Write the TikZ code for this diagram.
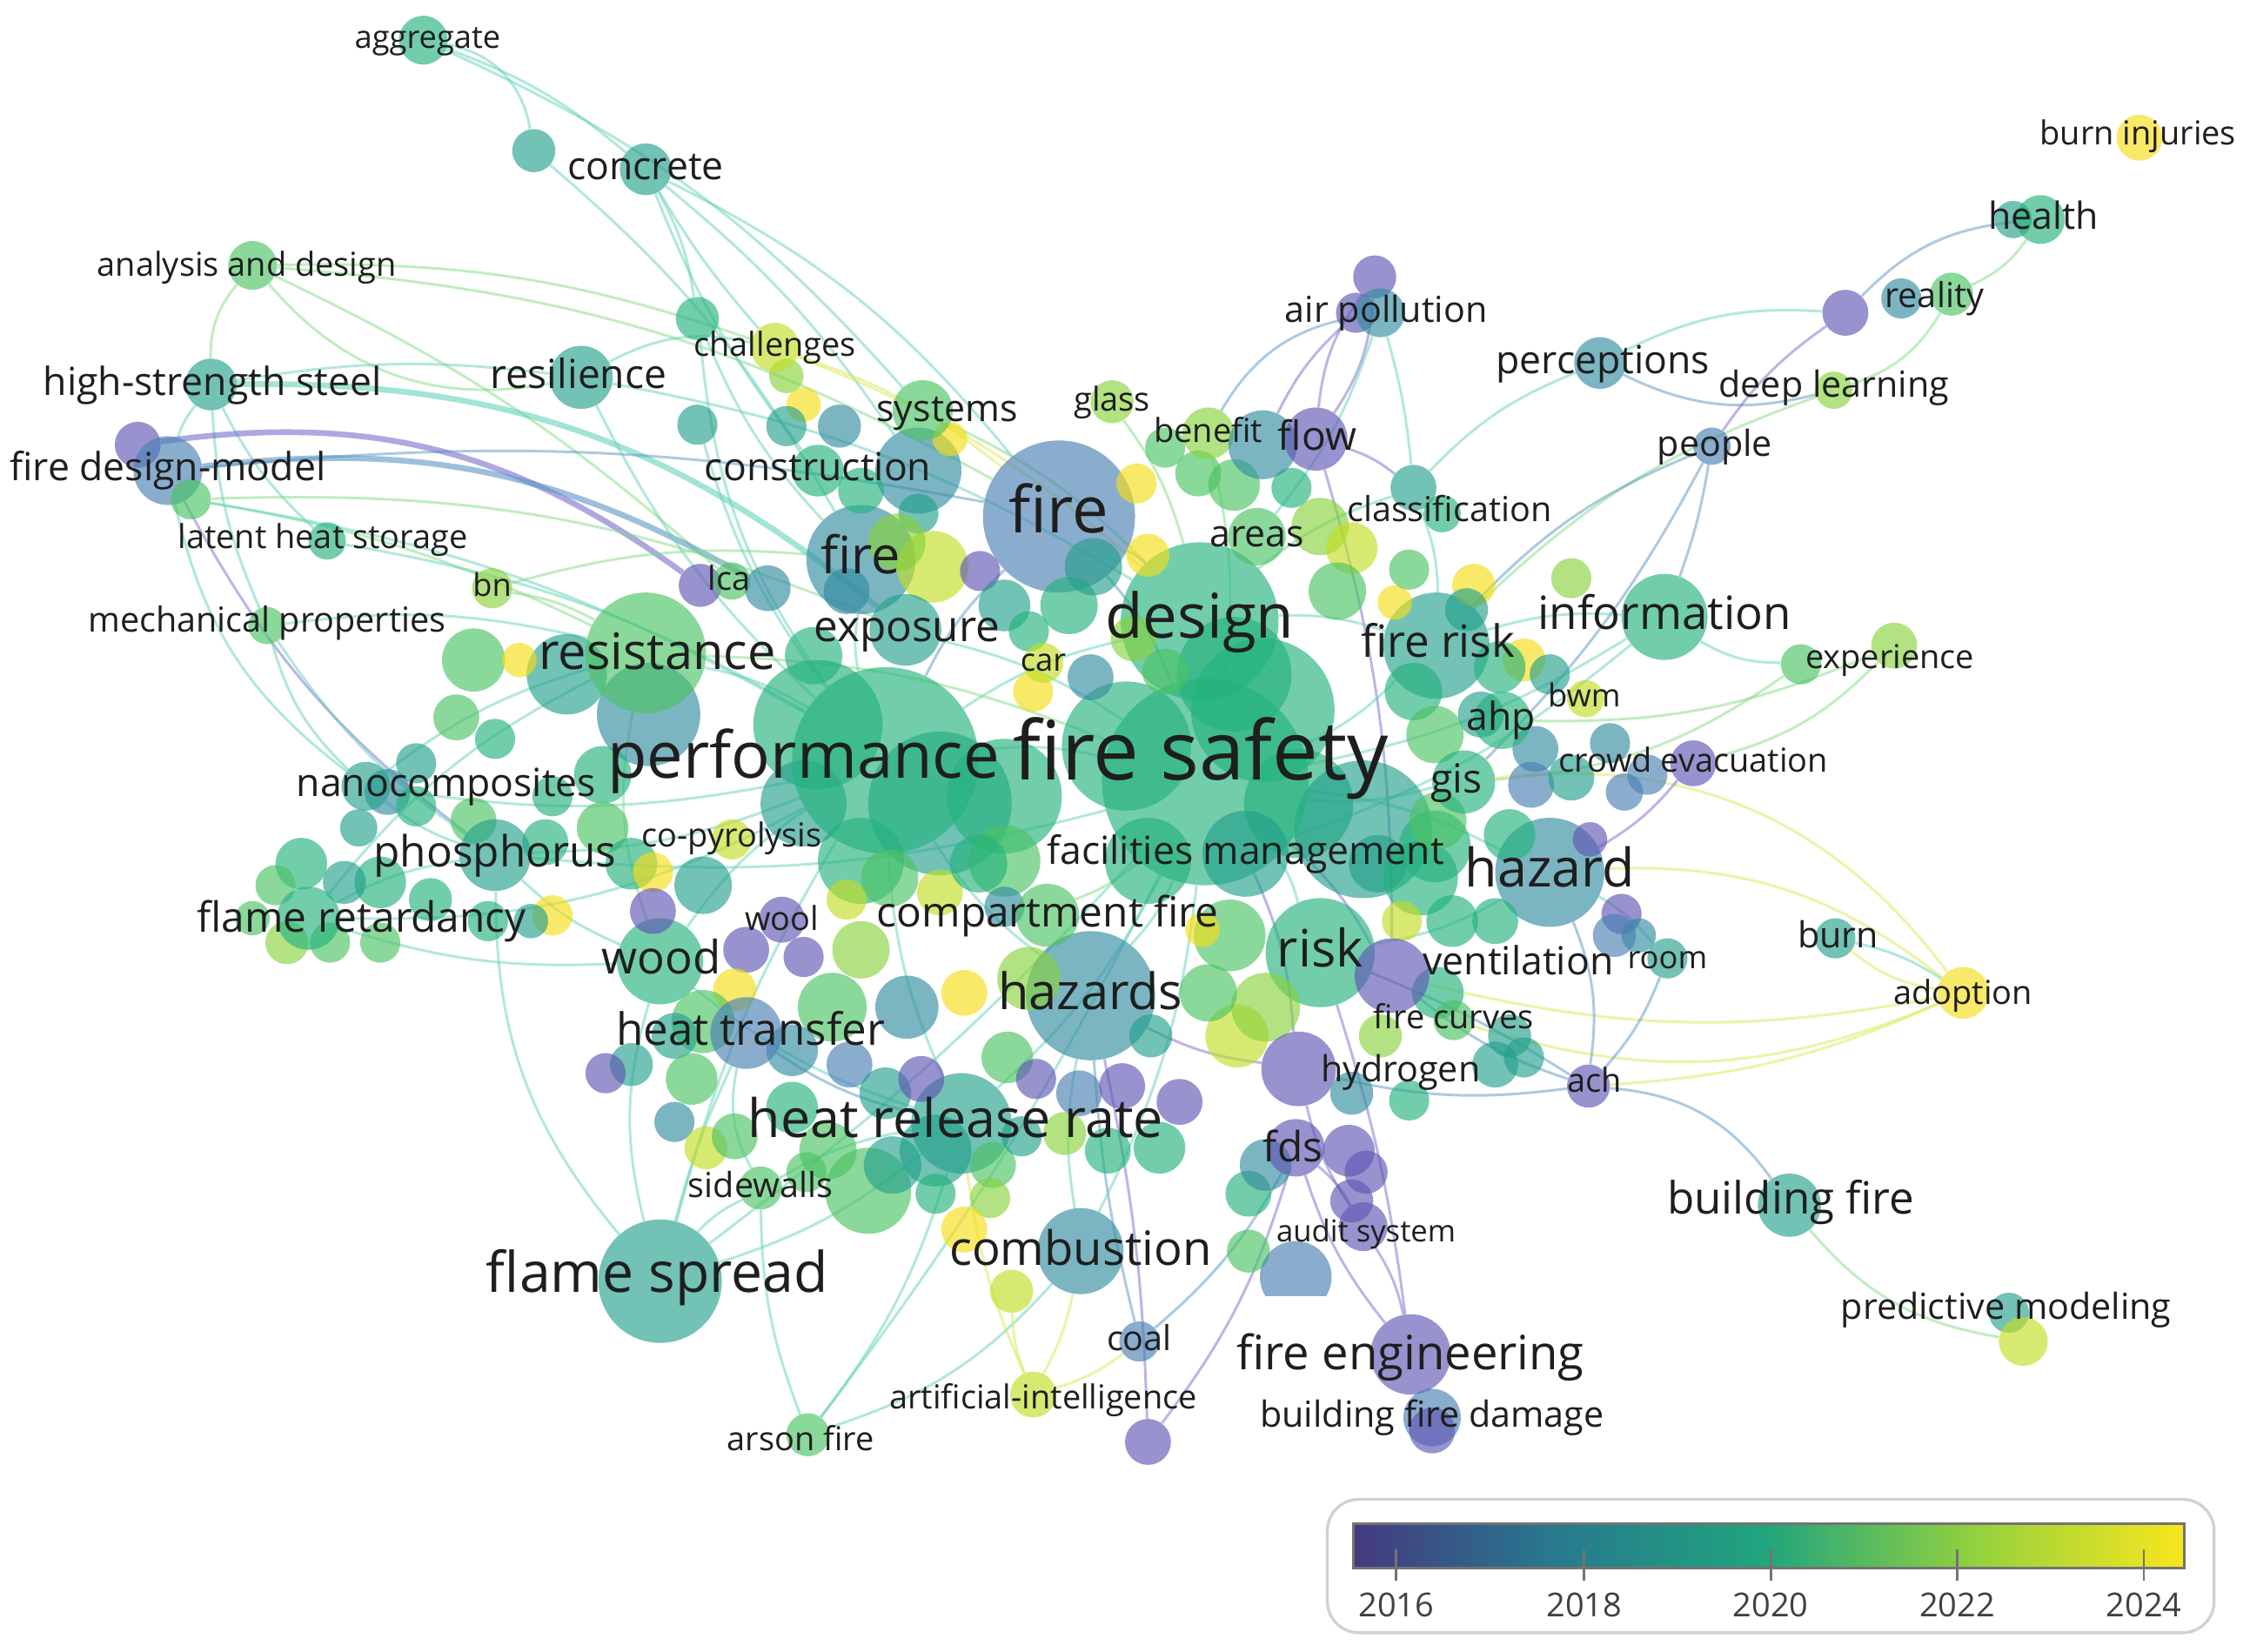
\documentclass[tikz,border=0pt]{standalone}
\usepackage{fontspec}
\setmainfont{Open Sans}
\pgfdeclarelayer{bgl}
\pgfdeclarelayer{edges}
\pgfdeclarelayer{labels}
\pgfsetlayers{bgl,edges,main,labels}
\definecolor{cA}{RGB}{95,85,180}
\definecolor{cB}{RGB}{72,128,178}
\definecolor{cC}{RGB}{50,140,160}
\definecolor{cD}{RGB}{35,160,140}
\definecolor{cE}{RGB}{35,178,125}
\definecolor{cF}{RGB}{75,195,100}
\definecolor{cG}{RGB}{135,210,60}
\definecolor{cH}{RGB}{195,222,35}
\definecolor{cI}{RGB}{245,222,20}
\definecolor{eT}{RGB}{100,210,185}
\definecolor{eG}{RGB}{130,220,130}
\definecolor{eB}{RGB}{90,150,195}
\definecolor{eP}{RGB}{120,110,205}
\definecolor{eY}{RGB}{220,232,80}
\definecolor{lbl}{RGB}{30,30,30}
\definecolor{lg1}{RGB}{68,58,128}
\definecolor{lg2}{RGB}{40,120,142}
\definecolor{lg3}{RGB}{32,165,125}
\definecolor{lg4}{RGB}{150,210,60}
\definecolor{lg5}{RGB}{248,230,30}
\tikzset{
  bub/.style={circle,inner sep=0pt,draw=none,fill opacity=0.64},
  lb/.style={inner sep=0pt,text=lbl},
  ed/.style={draw=#1,line width=1.8pt,draw opacity=0.5},
  ed/.default=eT,
  thick edge/.style={line width=4pt,draw opacity=0.6}
}
\newcommand\bb[5]{\node[bub,fill=#4,minimum size={(2*#3)*1pt}] (#5) at (#1,#2) {};}
\newcommand\lab[5]{\node[lb,font=\fontsize{#3}{#3}\selectfont,anchor=base] (#5) at (#1,{#2+0.27*#3}) {#4};}
\begin{document}
\begin{tikzpicture}[x=1pt,y=-1pt]
\useasboundingbox (0,0) rectangle (1568,1151);
\begin{pgfonlayer}{bgl}
\fill[white] (0,0) rectangle (1568,1151);
\end{pgfonlayer}

% big background bubbles
\foreach \x/\y/\r/\c [count=\i] in {570/505/45/cE, 655/560/50/cD, 700/555/40/cE, 785/520/45/cE, 880/495/50/cE, 860/470/40/cE, 905/560/38/cE, 950/578/48/cD, 452/498/36/cC, 395/470/28/cD, 605/830/30/cF, 800/600/30/cE, 700/600/25/cF, 600/600/30/cE, 560/560/30/cD, 1000/590/25/cE}
  {\node[bub,fill=\c,minimum size={(2*\r)*1pt}] (g\i) at (\x,\y) {};}

% big named bubbles
\bb{617}{530}{65}{cE}{perf}
\bb{840}{545}{72}{cE}{fs}
\bb{836}{433}{55}{cE}{design}
\bb{738}{360}{53}{cB}{firel}
\bb{450}{455}{42}{cF}{resi}
\bb{760}{694}{45}{cC}{hazs}
\bb{600}{390}{38}{cC}{firem}
\bb{1001}{450}{37}{cD}{frisk}
\bb{1080}{608}{38}{cC}{haz}
\bb{920}{664}{38}{cE}{risk}
\bb{460}{893}{43}{cD}{fsp}
\bb{670}{783}{35}{cD}{hrr}
\bb{753}{872}{30}{cC}{comb}
\bb{1160}{430}{30}{cE}{info}
\bb{868}{595}{30}{cD}{fm}
\bb{460}{670}{30}{cE}{wood}
\bb{640}{328}{30}{cC}{fireb}

% small unnamed bubbles
\foreach \x/\y/\r/\c [count=\i] in {548/262/12/cG, 560/282/12/cI, 585/297/15/cC, 548/297/14/cD, 662/306/12/cI, 600/342/16/cE, 640/358/14/cD, 792/337/14/cI, 800/387/15/cI, 812/312/14/cF, 835/330/16/cF, 860/338/18/cF, 900/340/14/cE, 650/395/25/cH, 625/378/20/cG, 683/398/14/cA, 700/422/18/cD, 745/422/20/cE, 717/440/14/cE, 762/395/20/cD, 790/445/16/cG, 812/468/16/cF, 760/472/16/cC, 720/482/14/cI, 567/457/20/cE, 590/412/16/cC,
920/367/20/cG, 942/382/18/cH, 972/420/12/cI, 932/412/20/cF, 1027/408/15/cI, 1022/425/15/cD, 1095/403/14/cG, 982/397/14/cF, 1062/460/15/cI, 1032/498/16/cD, 985/482/20/cE, 1000/512/20/cF, 1070/522/16/cC, 1122/518/14/cC, 1067/547/16/cB, 1108/585/12/cA, 1130/637/14/cA, 1142/652/12/cC, 1045/465/18/cE, 1080/470/14/cD,
330/460/22/cF, 318/500/16/cF, 345/515/14/cE, 290/532/14/cD, 270/552/16/cC, 250/577/13/cD, 420/540/20/cE, 420/577/18/cF, 385/555/14/cE, 440/602/18/cE, 455/608/14/cI, 455/635/16/cA, 385/638/14/cI, 370/642/12/cD, 300/627/15/cE, 265/615/18/cE, 240/615/15/cD, 210/602/18/cE, 192/617/14/cF, 200/657/15/cG, 230/657/14/cF, 265/657/14/cF, 340/642/14/cE, 176/640/12/cF, 290/562/14/cE, 330/572/16/cF, 380/587/16/cE, 362/460/12/cI,
490/617/20/cD, 520/662/16/cA, 512/690/15/cI, 560/667/14/cA, 590/627/14/cH, 620/612/20/cF, 655/622/16/cH, 682/602/20/cE, 700/632/14/cC, 600/662/20/cG, 580/702/24/cF, 632/702/22/cC, 672/692/16/cI, 717/682/22/cG, 490/712/22/cF, 470/722/16/cD, 440/742/15/cD, 422/748/14/cA, 482/752/18/cF, 552/732/18/cC, 592/742/16/cB, 617/762/18/cD, 642/752/16/cA, 702/737/18/cF, 722/752/14/cA, 752/762/16/cB, 782/757/16/cA, 822/768/16/cA, 802/722/15/cD, 862/722/22/cH, 882/702/24/cG, 842/692/20/cF, 857/652/25/cF, 838/648/12/cI,
470/782/14/cC, 492/800/15/cH, 512/792/16/cF, 552/772/18/cE, 577/802/20/cF, 622/812/20/cD, 652/802/25/cD, 692/812/16/cF, 712/792/14/cD, 742/790/15/cG, 772/802/16/cE, 808/800/18/cE, 690/835/14/cG, 672/857/16/cI, 652/832/14/cE, 562/817/14/cF, 870/832/16/cE, 882/812/18/cC, 870/872/15/cF, 940/802/18/cA, 952/817/15/cA, 942/837/15/cA, 942/762/15/cC, 982/767/14/cE, 1042/742/16/cD, 1062/737/14/cD, 1052/722/15/cD, 962/722/15/cG, 1002/692/18/cE, 1125/652/15/cB,
960/602/20/cD, 990/612/26/cE, 1002/572/20/cF, 1012/642/18/cE, 977/642/14/cH, 1052/582/18/cE, 1042/642/16/cE, 1132/552/13/cB, 1095/542/16/cD}
  {\node[bub,fill=\c,minimum size={(2*\r)*1pt}] (u\i) at (\x,\y) {};}

% named small bubbles
\bb{295}{28}{17}{cE}{agg}
\bb{372}{105}{15}{cD}{n1}
\bb{450}{118}{18}{cD}{conc}
\bb{176}{185}{17}{cF}{aad}
\bb{147}{268}{18}{cD}{hss}
\bb{405}{263}{22}{cD}{res}
\bb{540}{242}{17}{cH}{chal}
\bb{486}{222}{15}{cE}{n2}
\bb{486}{296}{14}{cD}{n3}
\bb{96}{310}{16}{cA}{pfd}
\bb{117}{328}{24}{cB}{fdm}
\bb{133}{348}{14}{cF}{gfd}
\bb{228}{377}{13}{cE}{lhs}
\bb{186}{436}{13}{cF}{mp}
\bb{343}{410}{14}{cG}{bn}
\bb{488}{408}{15}{cA}{lca}
\bb{510}{405}{13}{cF}{lcab}
\bb{535}{410}{16}{cC}{lcac}
\bb{643}{286}{21}{cF}{sys}
\bb{570}{328}{18}{cE}{cons}
\bb{775}{280}{15}{cG}{glass}
\bb{842}{302}{18}{cG}{ben}
\bb{880}{310}{24}{cC}{flowb}
\bb{917}{306}{22}{cA}{flow}
\bb{958}{193}{15}{cA}{apc}
\bb{945}{218}{14}{cA}{apb}
\bb{962}{218}{17}{cC}{ap}
\bb{985}{340}{16}{cD}{cls}
\bb{1005}{358}{13}{cE}{clsb}
\bb{876}{374}{20}{cF}{areas}
\bb{631}{439}{25}{cD}{exp}
\bb{727}{462}{14}{cH}{car}
\bb{1115}{253}{18}{cC}{perc}
\bb{1278}{272}{13}{cG}{dl}
\bb{1286}{218}{16}{cA}{realp}
\bb{1325}{208}{14}{cC}{real}
\bb{1360}{205}{15}{cF}{realb}
\bb{1403}{153}{13}{cD}{healthb}
\bb{1422}{153}{17}{cE}{health}
\bb{1491}{96}{16}{cI}{burninj}
\bb{1193}{311}{13}{cB}{people}
\bb{1255}{463}{14}{cF}{expr}
\bb{1320}{450}{16}{cG}{exprb}
\bb{1105}{487}{13}{cH}{bwm}
\bb{1047}{502}{20}{cE}{ahp}
\bb{1148}{540}{14}{cB}{crowdb}
\bb{1180}{532}{16}{cA}{crowd}
\bb{1020}{545}{22}{cE}{gis}
\bb{255}{548}{17}{cD}{nano}
\bb{510}{585}{14}{cH}{copy}
\bb{345}{596}{25}{cD}{phos}
\bb{215}{640}{22}{cE}{flr}
\bb{730}{638}{22}{cF}{cf}
\bb{545}{641}{16}{cA}{wool}
\bb{970}{680}{26}{cA}{vent}
\bb{1162}{668}{14}{cD}{room}
\bb{1279}{654}{14}{cD}{burn}
\bb{1368}{692}{18}{cI}{adop}
\bb{520}{720}{25}{cB}{ht}
\bb{1013}{711}{14}{cF}{fc}
\bb{905}{745}{26}{cA}{hyd}
\bb{1107}{757}{15}{cA}{ach}
\bb{903}{800}{20}{cA}{fds}
\bb{530}{828}{15}{cF}{sw}
\bb{1247}{840}{22}{cD}{bf}
\bb{950}{855}{17}{cA}{audit}
\begin{scope}
  \clip (870,850) rectangle (940,903);
  \bb{903}{890}{25}{cB}{half}
\end{scope}
\bb{1400}{915}{14}{cD}{pm}
\bb{1410}{935}{17}{cH}{pmb}
\bb{983}{944}{28}{cA}{fe}
\bb{794}{935}{14}{cB}{coal}
\bb{998}{988}{20}{cB}{bfd}
\bb{998}{997}{16}{cA}{bfdb}
\bb{720}{972}{16}{cH}{ai}
\bb{563}{1000}{15}{cF}{arson}
\bb{800}{1005}{16}{cA}{n4}
\bb{705}{900}{15}{cH}{n5}

% edges
\begin{pgfonlayer}{edges}
\draw[ed] (agg) to[bend left=35] (n1);
\draw[ed] (agg) to[bend left=10] (conc);
\draw[ed] (agg) to[bend left=12] (sys);
\draw[ed] (n1) to[bend left=10] (firem);
\draw[ed] (conc) to[bend left=10] (n2);
\draw[ed] (conc) to[bend right=8] (cons);
\draw[ed] (conc) to[bend left=8] (fireb);
\draw[ed] (conc) to[bend left=12] (firel);
\draw[ed] (conc) to[bend right=5] (chal);
\draw[ed=eG] (aad) to[bend right=20] (hss);
\draw[ed=eG] (aad) to[bend left=10] (chal);
\draw[ed=eG] (aad) to[bend left=12] (firel);
\draw[ed=eG] (aad) to[bend right=30] (res);
\draw[ed=eG] (aad) to[bend left=8] (lcab);
\draw[ed] (hss) to[bend right=10] (fdm);
\draw[ed,thick edge] (hss) to[bend left=20] (exp);
\draw[ed] (hss) to[bend right=10] (lhs);
\draw[ed] (hss) to[bend right=10] (mp);
\draw[ed] (hss) to[bend left=8] (res);
\draw[ed=eP,thick edge] (pfd) to[bend left=22] (lca);
\draw[ed=eB,thick edge] (fdm) to[bend left=18] (lcac);
\draw[ed=eB] (fdm) to[bend left=8] (firel);
\draw[ed=eG] (gfd) to[bend left=8] (resi);
\draw[ed=eG] (gfd) to[bend left=12] (exp);
\draw[ed] (gfd) to[bend left=10] (perf);
\draw[ed] (fdm) to[bend right=20] (nano);
\draw[ed=eP] (fdm) to[bend right=12] (phos);
\draw[ed] (lhs) to[bend left=10] (perf);
\draw[ed] (mp) to[bend right=15] (nano);
\draw[ed] (mp) to[bend left=10] (resi);
\draw[ed] (mp) to[bend right=10] (phos);
\draw[ed=eG] (bn) to[bend left=10] (resi);
\draw[ed=eG] (bn) to[bend left=10] (firem);
\draw[ed] (res) to[bend left=20] (chal);
\draw[ed] (res) to[bend right=10] (perf);
\draw[ed] (res) to[bend left=10] (design);
\draw[ed=eY] (chal) to[bend left=10] (firel);
\draw[ed=eY] (chal) to[bend left=10] (design);
\draw[ed] (n2) to[bend right=10] (firem);
\draw[ed] (n2) to[bend right=15] (perf);
\draw[ed] (n3) to[bend right=10] (perf);
\draw[ed=eG] (sys) to[bend left=10] (design);
\draw[ed=eG] (glass) to[bend left=10] (design);
\draw[ed=eG] (ben) to[bend left=10] (fs);
\draw[ed=eP] (apc) to[bend right=15] (flow);
\draw[ed=eP] (apc) to[bend left=15] (flow);
\draw[ed=eP] (apb) to[bend right=10] (flowb);
\draw[ed] (ap) to[bend left=10] (areas);
\draw[ed=eB] (ap) to[bend right=25] (ben);
\draw[ed] (ap) to[bend left=5] (cls);
\draw[ed=eP] (flow) to[bend left=10] (cls);
\draw[ed=eP] (flow) to[bend left=8] (vent);
\draw[ed] (perc) to[bend right=12] (cls);
\draw[ed] (perc) to[bend left=15] (realp);
\draw[ed=eB] (perc) to[bend right=20] (dl);
\draw[ed=eB] (health) to[bend right=20] (realp);
\draw[ed=eG] (health) to[bend left=15] (realb);
\draw[ed=eP] (realp) to[bend right=10] (people);
\draw[ed=eG] (realb) to[bend left=20] (dl);
\draw[ed=eG] (dl) to[bend right=12] (frisk);
\draw[ed=eB] (people) to[bend right=12] (frisk);
\draw[ed=eB] (people) to[bend left=8] (gis);
\draw[ed=eB] (people) to[bend left=5] (info);
\draw[ed] (info) to[bend right=15] (expr);
\draw[ed] (info) to[bend right=10] (frisk);
\draw[ed=eG] (expr) to[bend left=15] (gis);
\draw[ed=eG] (exprb) to[bend left=15] (crowd);
\draw[ed=eG] (exprb) to[bend left=12] (ahp);
\draw[ed] (cls) to[bend left=10] (frisk);
\draw[ed] (cls) to[bend right=10] (design);
\draw[ed=eY] (adop) to[bend left=15] (burn);
\draw[ed=eY] (adop) to[bend right=20] (haz);
\draw[ed=eY] (adop) to[bend right=30] (gis);
\draw[ed=eY] (adop) to[bend left=12] (vent);
\draw[ed=eY] (adop) to[bend left=20] (fc);
\draw[ed=eY] (adop) to[bend left=10] (ach);
\draw[ed] (burn) to[bend left=10] (adop);
\draw[ed=eB] (ach) to[bend left=25] (bf);
\draw[ed=eG] (bf) to[bend right=20] (pmb);
\draw[ed=eB] (ach) to[bend left=10] (vent);
\draw[ed=eB] (ach) to[bend right=10] (room);
\draw[ed=eB] (ach) to[bend right=15] (haz);
\draw[ed=eB] (ach) to[bend left=10] (hyd);
\draw[ed=eB] (ach) to[bend right=5] (risk);
\draw[ed] (room) to[bend right=10] (haz);
\draw[ed] (fsp) to[bend left=10] (sw);
\draw[ed] (fsp) to[bend left=5] (ht);
\draw[ed] (fsp) to[bend left=15] (wood);
\draw[ed] (fsp) to[bend right=10] (hrr);
\draw[ed] (fsp) to[bend left=8] (perf);
\draw[ed] (fsp) to[bend left=20] (phos);
\draw[ed] (fsp) to[bend right=5] (fs);
\draw[ed] (arson) to[bend right=10] (hrr);
\draw[ed] (arson) to[bend right=15] (comb);
\draw[ed] (arson) to[bend left=10] (sw);
\draw[ed] (arson) to[bend right=5] (fs);
\draw[ed=eY] (ai) to[bend right=8] (comb);
\draw[ed=eY] (ai) to[bend left=8] (hrr);
\draw[ed=eY] (ai) to[bend left=10] (n5);
\draw[ed=eY] (ai) to[bend right=10] (coal);
\draw[ed=eB] (coal) to[bend right=10] (fds);
\draw[ed=eB] (coal) to[bend left=5] (hazs);
\draw[ed=eP] (n4) to[bend right=5] (hazs);
\draw[ed=eP] (n4) to[bend right=10] (fds);
\draw[ed=eP] (fe) to[bend left=10] (bfd);
\draw[ed=eP] (fe) to[bend left=10] (fds);
\draw[ed=eP] (fe) to[bend right=10] (audit);
\draw[ed=eP] (fe) to[bend right=5] (risk);
\draw[ed=eP] (audit) to[bend right=10] (fds);
\draw[ed=eP] (audit) to[bend left=10] (hyd);
\draw[ed=eP] (hyd) to[bend left=10] (hazs);
\draw[ed] (comb) to[bend left=10] (hazs);
\draw[ed] (comb) to[bend right=10] (fs);
\draw[ed] (perf) to[bend left=10] (fs);
\draw[ed] (perf) to[bend left=10] (design);
\draw[ed] (perf) to[bend right=10] (hazs);
\draw[ed] (perf) to[bend right=10] (hrr);
\draw[ed] (perf) to[bend right=10] (wood);
\draw[ed] (perf) to[bend left=10] (phos);
\draw[ed] (perf) to[bend left=10] (nano);
\draw[ed] (perf) to[bend right=10] (resi);
\draw[ed] (perf) to[bend left=15] (flr);
\draw[ed] (fs) to[bend right=10] (design);
\draw[ed] (fs) to[bend left=10] (haz);
\draw[ed] (fs) to[bend left=10] (risk);
\draw[ed] (fs) to[bend left=10] (hazs);
\draw[ed] (fs) to[bend right=10] (info);
\draw[ed] (fs) to[bend right=10] (frisk);
\draw[ed] (fs) to[bend right=10] (gis);
\draw[ed] (design) to[bend left=10] (frisk);
\draw[ed=eB] (firel) to[bend left=10] (design);
\draw[ed=eB] (firel) to[bend left=10] (fs);
\draw[ed=eB] (firel) to[bend right=10] (perf);
\draw[ed] (firem) to[bend right=10] (perf);
\draw[ed] (exp) to[bend left=10] (fs);
\draw[ed=eG] (resi) to[bend left=10] (fs);
\draw[ed=eG] (resi) to[bend right=15] (wood);
\draw[ed] (hrr) to[bend right=10] (fs);
\draw[ed] (hrr) to[bend left=10] (wood);
\draw[ed=eB] (ht) to[bend right=10] (hrr);
\draw[ed] (wood) to[bend left=10] (phos);
\draw[ed] (flr) to[bend left=10] (phos);
\draw[ed] (flr) to[bend right=10] (wood);
\draw[ed] (flr) to[bend left=12] (resi);
\draw[ed] (nano) to[bend right=10] (phos);
\draw[ed] (nano) to[bend left=10] (resi);
\draw[ed] (phos) to[bend right=10] (fs);
\draw[ed=eG] (cf) to[bend right=10] (fs);
\draw[ed] (risk) to[bend right=10] (haz);
\draw[ed=eP] (hyd) to[bend right=10] (fs);
\draw[ed=eP] (vent) to[bend right=10] (fs);
\draw[ed] (fm) to[bend right=10] (info);
\draw[ed=eP] (crowd) to[bend left=10] (haz);
\draw[ed] (sw) to[bend left=10] (hrr);
\draw[ed] (sw) to[bend left=20] (ht);
\end{pgfonlayer}

% labels
\begin{pgfonlayer}{labels}
\lab{298}{28}{22}{aggregate}{t1}
\lab{450}{118}{27}{concrete}{t2}
\lab{172}{186}{23}{analysis and design}{t3}
\lab{148}{268}{27}{high-strength steel}{t4}
\lab{403}{263}{28}{resilience}{t5}
\lab{540}{242}{23}{challenges}{t6}
\lab{117}{328}{27}{fire design-model}{t7}
\lab{225}{376}{23}{latent heat storage}{t8}
\lab{186}{434}{24}{mechanical properties}{t9}
\lab{343}{410}{22}{bn}{t10}
\lab{508}{405}{23}{lca}{t11}
\lab{660}{287}{26}{systems}{t12}
\lab{570}{328}{27}{construction}{t13}
\lab{600}{390}{36}{fire}{t14}
\lab{738}{359}{45}{fire}{t15}
\lab{775}{280}{23}{glass}{t16}
\lab{842}{302}{23}{benefit}{t17}
\lab{918}{306}{28}{flow}{t18}
\lab{966}{218}{25}{air pollution}{t19}
\lab{1010}{357}{24}{classification}{t20}
\lab{876}{374}{26}{areas}{t21}
\lab{632}{439}{30}{exposure}{t22}
\lab{836}{433}{43}{design}{t23}
\lab{727}{462}{22}{car}{t24}
\lab{1002}{450}{31}{fire risk}{t25}
\lab{1160}{430}{32}{information}{t26}
\lab{1117}{253}{27}{perceptions}{t27}
\lab{1278}{270}{25}{deep learning}{t28}
\lab{1348}{208}{24}{reality}{t29}
\lab{1424}{153}{26}{health}{t30}
\lab{1490}{95}{23}{burn injuries}{t31}
\lab{1195}{311}{25}{people}{t32}
\lab{1317}{460}{23}{experience}{t33}
\lab{1104}{487}{22}{bwm}{t34}
\lab{1046}{502}{27}{ahp}{t35}
\lab{1180}{532}{23}{crowd evacuation}{t36}
\lab{1015}{545}{28}{gis}{t37}
\lab{458}{457}{35}{resistance}{t38}
\lab{560}{530}{45}{performance}{t39}
\lab{837}{528}{57}{fire safety}{t40}
\lab{311}{548}{27}{nanocomposites}{t41}
\lab{510}{584}{23}{co-pyrolysis}{t42}
\lab{345}{596}{30}{phosphorus}{t43}
\lab{252}{642}{29}{flame retardancy}{t44}
\lab{868}{595}{27}{facilities management}{t45}
\lab{1080}{608}{37}{hazard}{t46}
\lab{730}{638}{29}{compartment fire}{t47}
\lab{545}{642}{23}{wool}{t48}
\lab{461}{670}{32}{wood}{t49}
\lab{920}{664}{36}{risk}{t50}
\lab{1058}{672}{27}{ventilation}{t51}
\lab{1162}{669}{22}{room}{t52}
\lab{1281}{654}{25}{burn}{t53}
\lab{1368}{694}{23}{adoption}{t54}
\lab{760}{694}{35}{hazards}{t55}
\lab{523}{720}{31}{heat transfer}{t56}
\lab{1013}{711}{23}{fire curves}{t57}
\lab{976}{747}{25}{hydrogen}{t58}
\lab{1111}{755}{23}{ach}{t59}
\lab{666}{783}{37}{heat release rate}{t60}
\lab{901}{802}{29}{fds}{t61}
\lab{530}{828}{24}{sidewalls}{t62}
\lab{1248}{838}{31}{building fire}{t63}
\lab{458}{890}{39}{flame spread}{t64}
\lab{753}{873}{33}{combustion}{t65}
\lab{952}{860}{21}{audit system}{t66}
\lab{1398}{913}{25}{predictive modeling}{t67}
\lab{983}{946}{33}{fire engineering}{t68}
\lab{794}{935}{24}{coal}{t69}
\lab{998}{988}{25}{building fire damage}{t70}
\lab{727}{976}{23}{artificial-intelligence}{t71}
\lab{558}{1005}{23}{arson fire}{t72}
\end{pgfonlayer}

% legend
\draw[draw=black!18,line width=2pt,fill=white,rounded corners=22pt] (925,1045) rectangle (1543,1138);
\shade[left color=lg1,right color=lg2] (943,1062) rectangle (1080,1093);
\shade[left color=lg2,right color=lg3] (1079.5,1062) rectangle (1230,1093);
\shade[left color=lg3,right color=lg4] (1229.5,1062) rectangle (1380,1093);
\shade[left color=lg4,right color=lg5] (1379.5,1062) rectangle (1522,1093);
\draw[draw=black!55,line width=2pt] (943,1062) rectangle (1522,1093);
\foreach \x/\yr in {973/2016,1104/2018,1234/2020,1364/2022,1494/2024}{
  \draw[black!55,line width=1.8pt] (\x,1080) -- (\x,1102);
  \node[lb,text=black!75,font=\fontsize{23}{23}\selectfont,anchor=base] (y\yr) at (\x,1127) {\yr};
}
\end{tikzpicture}
\end{document}
